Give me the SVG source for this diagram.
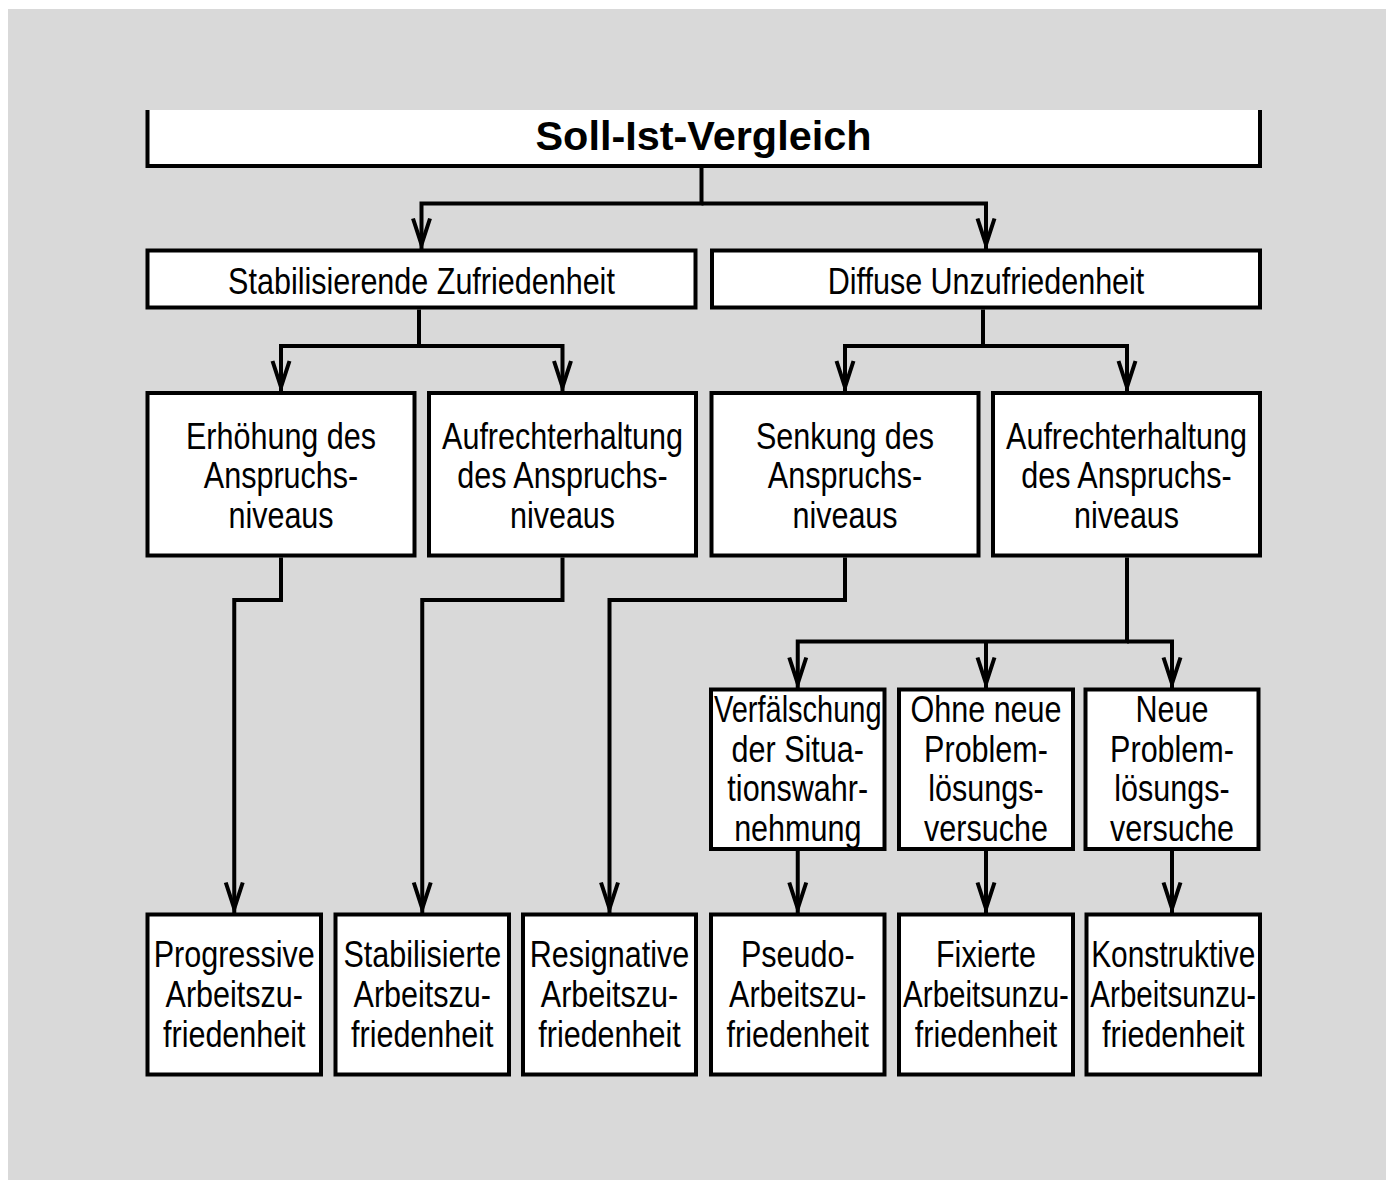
<svg xmlns="http://www.w3.org/2000/svg" width="1391" height="1180" viewBox="0 0 1391 1180">
<style>
.bg{fill:#d9d9d9}
.box{fill:#fff;stroke:#000;stroke-width:4}
.con{fill:none;stroke:#000;stroke-width:4;stroke-linejoin:miter}
.t{font-family:"Liberation Sans",Arial,Helvetica,sans-serif;font-size:37px;text-anchor:middle;fill:#000}
.title{font-family:"Liberation Sans",Arial,Helvetica,sans-serif;font-size:40px;font-weight:bold;text-anchor:middle;fill:#000}
</style>
<defs>
<marker id="ah" markerUnits="userSpaceOnUse" viewBox="-34 -14 44 28" refX="6" refY="0" markerWidth="44" markerHeight="28" orient="auto" overflow="visible">
<path d="M-26,-8.5 L0,0 L-26,8.5" fill="none" stroke="#000" stroke-width="4"/>
</marker>
</defs>
<rect x="0" y="0" width="1391" height="1180" fill="#fff"/>
<rect class="bg" x="8" y="9" width="1378" height="1171"/>

<g id="connectors">
<path class="con" marker-end="url(#ah)" d="M701.5,168 V203.5 H421.5 V250.5"/>
<path class="con" marker-end="url(#ah)" d="M701.5,203.5 H986 V250.5"/>
<path class="con" marker-end="url(#ah)" d="M419,309.5 V346 H281 V393"/>
<path class="con" marker-end="url(#ah)" d="M419,346 H562.5 V393"/>
<path class="con" marker-end="url(#ah)" d="M983,309.5 V346 H845 V393"/>
<path class="con" marker-end="url(#ah)" d="M983,346 H1127 V393"/>
<path class="con" marker-end="url(#ah)" d="M281,557.5 V600 H234.25 V914.5"/>
<path class="con" marker-end="url(#ah)" d="M562.5,557.5 V600 H422.25 V914.5"/>
<path class="con" marker-end="url(#ah)" d="M845,557.5 V600 H609.5 V914.5"/>
<path class="con" marker-end="url(#ah)" d="M1127,557.5 V641.5 H797.75 V689.5"/>
<path class="con" marker-end="url(#ah)" d="M1127,641.5 H1172 V689.5"/>
<path class="con" marker-end="url(#ah)" d="M986,641.5 V689.5"/>
<path class="con" marker-end="url(#ah)" d="M797.75,851 V914.5"/>
<path class="con" marker-end="url(#ah)" d="M986,851 V914.5"/>
<path class="con" marker-end="url(#ah)" d="M1172,851 V914.5"/>
</g>

<g id="n-soll-ist">
<rect x="147.5" y="110" width="1112.5" height="56" fill="#fff"/>
<path d="M147.5,110 V166 H1260 V110" fill="none" stroke="#000" stroke-width="4"/>
<text class="title" x="703.5" y="149.5" textLength="336" lengthAdjust="spacingAndGlyphs">Soll-Ist-Vergleich</text>
</g>

<g id="n-stab-zufr">
<rect class="box" x="147.5" y="250.5" width="548" height="57"/>
<g transform="translate(421.5 0) scale(0.825 1)"><text class="t" x="0" y="294.5">Stabilisierende Zufriedenheit</text></g>
</g>
<g id="n-diff-unzufr">
<rect class="box" x="712" y="250.5" width="548" height="57"/>
<g transform="translate(986 0) scale(0.825 1)"><text class="t" x="0" y="294.5">Diffuse Unzufriedenheit</text></g>
</g>

<g id="n-erhoehung">
<rect class="box" x="147.5" y="393" width="267" height="162.5"/>
<g transform="translate(281 0) scale(0.825 1)">
<text class="t" x="0" y="449">Erhöhung des</text>
<text class="t" x="0" y="488.5">Anspruchs-</text>
<text class="t" x="0" y="528">niveaus</text>
</g>
</g>
<g id="n-aufrecht-1">
<rect class="box" x="429" y="393" width="267" height="162.5"/>
<g transform="translate(562.5 0) scale(0.825 1)">
<text class="t" x="0" y="449">Aufrechterhaltung</text>
<text class="t" x="0" y="488.5">des Anspruchs-</text>
<text class="t" x="0" y="528">niveaus</text>
</g>
</g>
<g id="n-senkung">
<rect class="box" x="711.5" y="393" width="267" height="162.5"/>
<g transform="translate(845 0) scale(0.825 1)">
<text class="t" x="0" y="449">Senkung des</text>
<text class="t" x="0" y="488.5">Anspruchs-</text>
<text class="t" x="0" y="528">niveaus</text>
</g>
</g>
<g id="n-aufrecht-2">
<rect class="box" x="993" y="393" width="267" height="162.5"/>
<g transform="translate(1126.5 0) scale(0.825 1)">
<text class="t" x="0" y="449">Aufrechterhaltung</text>
<text class="t" x="0" y="488.5">des Anspruchs-</text>
<text class="t" x="0" y="528">niveaus</text>
</g>
</g>

<g id="n-verfaelschung">
<rect class="box" x="711" y="689.5" width="173.5" height="159.5"/>
<g transform="translate(797.75 0) scale(0.825 1)">
<text class="t" x="0" y="722.5" textLength="203" lengthAdjust="spacingAndGlyphs">Verfälschung</text>
<text class="t" x="0" y="762">der Situa-</text>
<text class="t" x="0" y="801.5">tionswahr-</text>
<text class="t" x="0" y="841">nehmung</text>
</g>
</g>
<g id="n-ohne-neue">
<rect class="box" x="899" y="689.5" width="174" height="159.5"/>
<g transform="translate(986 0) scale(0.825 1)">
<text class="t" x="0" y="722.5">Ohne neue</text>
<text class="t" x="0" y="762">Problem-</text>
<text class="t" x="0" y="801.5">lösungs-</text>
<text class="t" x="0" y="841">versuche</text>
</g>
</g>
<g id="n-neue">
<rect class="box" x="1085.5" y="689.5" width="173" height="159.5"/>
<g transform="translate(1172 0) scale(0.825 1)">
<text class="t" x="0" y="722.5">Neue</text>
<text class="t" x="0" y="762">Problem-</text>
<text class="t" x="0" y="801.5">lösungs-</text>
<text class="t" x="0" y="841">versuche</text>
</g>
</g>

<g id="n-progressive">
<rect class="box" x="147.5" y="914.5" width="173.5" height="160"/>
<g transform="translate(234.25 0) scale(0.825 1)">
<text class="t" x="0" y="967.5">Progressive</text>
<text class="t" x="0" y="1007.5">Arbeitszu-</text>
<text class="t" x="0" y="1047">friedenheit</text>
</g>
</g>
<g id="n-stabilisierte">
<rect class="box" x="335.5" y="914.5" width="173.5" height="160"/>
<g transform="translate(422.25 0) scale(0.825 1)">
<text class="t" x="0" y="967.5">Stabilisierte</text>
<text class="t" x="0" y="1007.5">Arbeitszu-</text>
<text class="t" x="0" y="1047">friedenheit</text>
</g>
</g>
<g id="n-resignative">
<rect class="box" x="523" y="914.5" width="173" height="160"/>
<g transform="translate(609.5 0) scale(0.825 1)">
<text class="t" x="0" y="967.5">Resignative</text>
<text class="t" x="0" y="1007.5">Arbeitszu-</text>
<text class="t" x="0" y="1047">friedenheit</text>
</g>
</g>
<g id="n-pseudo">
<rect class="box" x="711" y="914.5" width="173.5" height="160"/>
<g transform="translate(797.75 0) scale(0.825 1)">
<text class="t" x="0" y="967.5">Pseudo-</text>
<text class="t" x="0" y="1007.5">Arbeitszu-</text>
<text class="t" x="0" y="1047">friedenheit</text>
</g>
</g>
<g id="n-fixierte">
<rect class="box" x="899" y="914.5" width="174" height="160"/>
<g transform="translate(986 0) scale(0.825 1)">
<text class="t" x="0" y="967.5">Fixierte</text>
<text class="t" x="0" y="1007.5" textLength="201" lengthAdjust="spacingAndGlyphs">Arbeitsunzu-</text>
<text class="t" x="0" y="1047">friedenheit</text>
</g>
</g>
<g id="n-konstruktive">
<rect class="box" x="1086.5" y="914.5" width="173.5" height="160"/>
<g transform="translate(1173.25 0) scale(0.825 1)">
<text class="t" x="0" y="967.5" textLength="199" lengthAdjust="spacingAndGlyphs">Konstruktive</text>
<text class="t" x="0" y="1007.5" textLength="201" lengthAdjust="spacingAndGlyphs">Arbeitsunzu-</text>
<text class="t" x="0" y="1047">friedenheit</text>
</g>
</g>
</svg>
